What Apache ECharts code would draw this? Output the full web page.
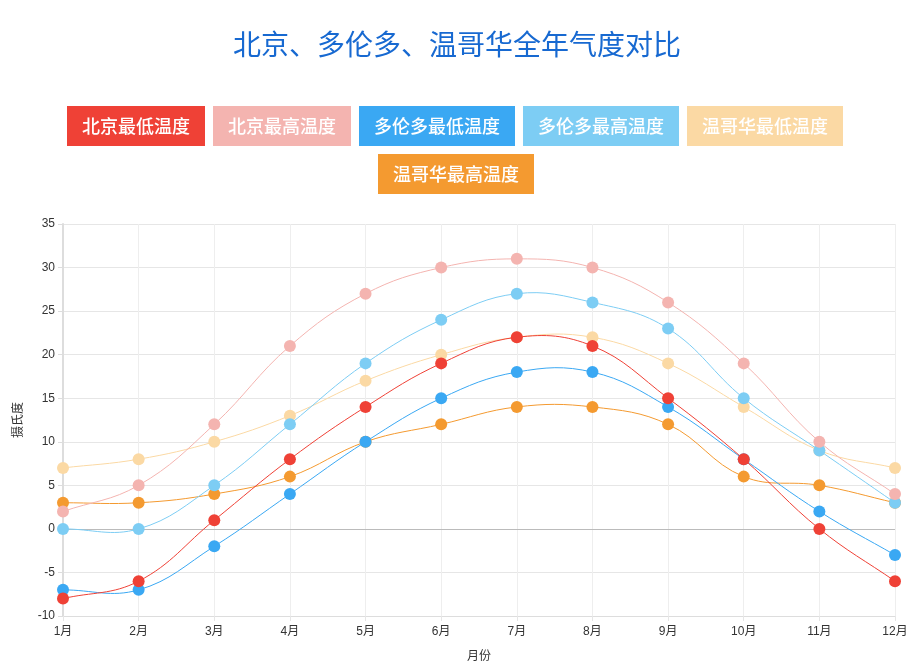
<!DOCTYPE html>
<html><head><meta charset="utf-8">
<script src="https://cdn.jsdelivr.net/npm/echarts@6/dist/echarts.min.js"></script>
<style>html,body{margin:0;padding:0;background:#fff}#c{width:921px;height:670px}</style>
</head><body><div id="c"></div>
<script>
var months = ['1月','2月','3月','4月','5月','6月','7月','8月','9月','10月','11月','12月'];
var seriesNames = ['北京最低温度','北京最高温度','多伦多最低温度','多伦多最高温度','温哥华最低温度','温哥华最高温度'];
var bjLow  = [-8, -6, 1, 8, 14, 19, 22, 21, 15, 8, 0, -6];
var bjHigh = [2, 5, 12, 21, 27, 30, 31, 30, 26, 19, 10, 4];
var toLow  = [-7, -7, -2, 4, 10, 15, 18, 18, 14, 8, 2, -3];
var toHigh = [0, 0, 5, 12, 19, 24, 27, 26, 23, 15, 9, 3];
var vaLow  = [7, 8, 10, 13, 17, 20, 22, 22, 19, 14, 9, 7];
var vaHigh = [3, 3, 4, 6, 10, 12, 14, 14, 12, 6, 5, 3];
var values = [bjLow, bjHigh, toLow, toHigh, vaLow, vaHigh];
var colors = ['#ef4136','#f4b4b0','#3aa8f3','#7dcdf4','#fbd9a4','#f49a30'];

var font = '"Noto Sans CJK SC", "Noto Sans", sans-serif';
var numFont = '"Liberation Sans", "Noto Sans CJK SC", sans-serif';
var TENSION = 0.4;

function ctrl(prev, cur, next) {
  var d01 = Math.hypot(cur[0]-prev[0], cur[1]-prev[1]);
  var d12 = Math.hypot(next[0]-cur[0], next[1]-cur[1]);
  var sum = d01 + d12;
  var s01 = sum ? d01/sum : 0, s12 = sum ? d12/sum : 0;
  var fa = TENSION*s01, fb = TENSION*s12;
  var vx = next[0]-prev[0], vy = next[1]-prev[1];
  return {prev:[cur[0]-fa*vx, cur[1]-fa*vy], next:[cur[0]+fb*vx, cur[1]+fb*vy]};
}
function segRenderer(arr, color) {
  return function(params, api) {
    var n = arr.length, j = params.dataIndex;
    if (j >= n-1) return null;
    var P = function(k){ k = Math.max(0, Math.min(n-1, k)); return api.coord([k, arr[k]]); };
    var p0 = P(j-1), p1 = P(j), p2 = P(j+1), p3 = P(j+2);
    var c1 = ctrl(p0, p1, p2).next, c2 = ctrl(p1, p2, p3).prev;
    return {type:'bezierCurve',
      shape:{x1:p1[0], y1:p1[1], x2:p2[0], y2:p2[1], cpx1:c1[0], cpy1:c1[1], cpx2:c2[0], cpy2:c2[1]},
      style:{stroke:color, fill:null, lineWidth:1}};
  };
}

function legendItem(i){
  return {name: seriesNames[i], textStyle:{backgroundColor: colors[i]}};
}
var legendCommon = {
  icon: 'none', itemWidth: 0, itemHeight: 0, itemGap: 3, padding: 0,
  textStyle: {color:'#fff', fontSize:18, fontWeight:500, fontFamily: font, padding:[11,15,11,15], lineHeight:18}
};

var series = [];
seriesNames.forEach(function(n, i){
  series.push({name:n, type:'custom', renderItem: segRenderer(values[i], colors[i]),
    data: values[i].map(function(v, j){ return [j, v]; }), encode:{x:0, y:1},
    itemStyle:{color:colors[i]}, z: 10 - i, silent:true, clip:false});
  var s = {name:n, type:'line', data: values[i], symbol:'circle', symbolSize:12,
    lineStyle:{width:0, opacity:0}, itemStyle:{color:colors[i]}, z: 10 - i};
  if (i === 0) s.markLine = {silent:true, symbol:'none', label:{show:false},
    lineStyle:{color:'#bbb', type:'solid', width:1}, data:[{yAxis:0}]};
  series.push(s);
});

var chart = echarts.init(document.getElementById('c'));
chart.setOption({
  color: colors,
  title: {text:'北京、多伦多、温哥华全年气度对比', left:228, top:25,
    textStyle:{color:'#1769d1', fontSize:28, fontWeight:'normal', fontFamily: font}},
  legend: [
    Object.assign({}, legendCommon, {left:62, top:106, data:[0,1,2,3,4].map(legendItem)}),
    Object.assign({}, legendCommon, {left:373, top:154, data:[5].map(legendItem)})
  ],
  grid: {left:63, right:26, top:224, bottom:54},
  xAxis: {type:'category', data: months, boundaryGap:false,
    name:'月份', nameLocation:'middle', nameGap:33,
    nameTextStyle:{color:'#333', fontSize:12, fontFamily:font},
    axisLine:{onZero:false, lineStyle:{color:'#ddd'}},
    axisTick:{show:true, length:5, lineStyle:{color:'#e6e6e6'}},
    axisLabel:{color:'#333', fontSize:12, margin:10, fontFamily:numFont},
    splitLine:{show:true, lineStyle:{color:'#eee'}}},
  yAxis: {type:'value', min:-10, max:35, interval:5,
    name:'摄氏度', nameLocation:'middle', nameGap:40,
    nameTextStyle:{color:'#333', fontSize:12, fontFamily:font},
    axisLine:{show:true, lineStyle:{color:'#ddd', width:2}},
    axisTick:{show:true, length:5, lineStyle:{color:'#ddd'}},
    axisLabel:{color:'#333', fontSize:12, fontFamily:numFont},
    splitLine:{lineStyle:{color:'#e6e6e6'}}},
  series: series
});
</script></body></html>
